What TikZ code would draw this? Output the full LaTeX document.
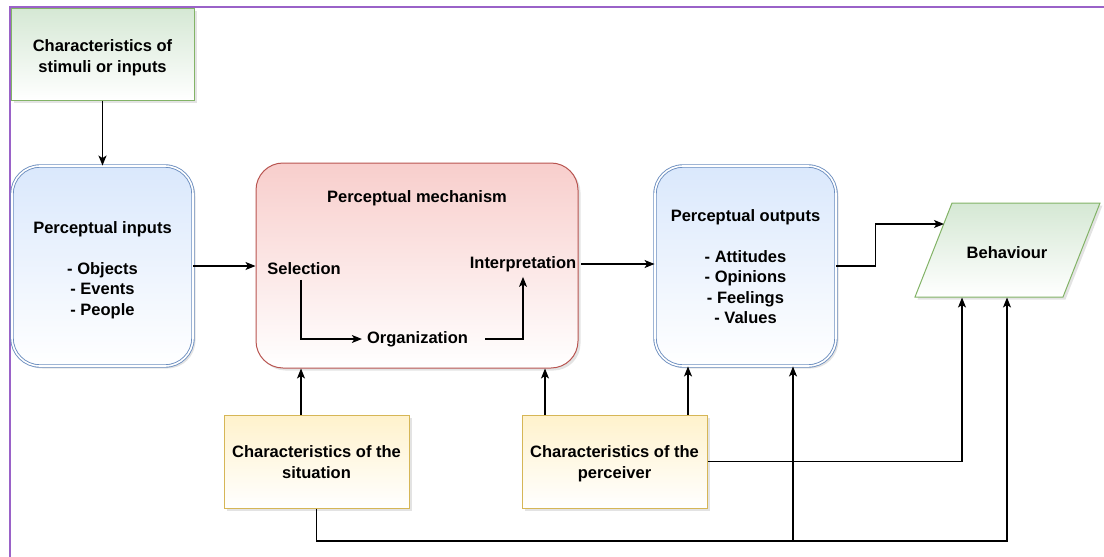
\documentclass[tikz,border=0pt]{standalone}
\usepackage{fontspec}
\setmainfont{Liberation Sans}
\usetikzlibrary{arrows.meta,shadows,calc}
\definecolor{gfill}{HTML}{D5E8D4}\definecolor{gline}{HTML}{82B366}
\definecolor{bfill}{HTML}{DAE8FC}\definecolor{bline}{HTML}{6C8EBF}
\definecolor{rfill}{HTML}{F8CECC}\definecolor{rline}{HTML}{B85450}
\definecolor{yfill}{HTML}{FFF2CC}\definecolor{yline}{HTML}{D6B656}
\definecolor{framecol}{HTML}{9A62C8}
\newcommand\boxlbl[2][3pt]{\raisebox{-#1}[\height][\depth]{\begin{tabular}{@{}c@{}}#2\end{tabular}}}
\tikzset{
  boxshadow/.style={drop shadow={shadow xshift=2.5pt,shadow yshift=-2.5pt,opacity=0.22}},
  txt/.style={font=\fontsize{16.5}{20.5}\selectfont\bfseries, align=center, text=black},
  basebox/.style={txt, line width=1pt, boxshadow, inner sep=0pt},
  greenbox/.style={basebox, draw=gline, top color=gfill, bottom color=white},
  yellowbox/.style={basebox, draw=yline, top color=yfill, bottom color=white,
    minimum width=185pt, minimum height=93pt},
  bluebox/.style={basebox, draw=bline, top color=bfill, bottom color=white,
    double=white, double distance=1.6pt, line width=0.9pt, rounded corners=28pt,
    minimum width=181pt, minimum height=200pt},
  redbox/.style={basebox, draw=rline, top color=rfill, bottom color=white,
    rounded corners=27pt, minimum width=322pt, minimum height=205pt},
  innertxt/.style={txt, inner sep=5pt},
  arr/.style={draw=black, line width=1.2pt, -{Stealth[length=10pt,width=8pt,inset=2.5pt]}},
}
\begin{document}
\begin{tikzpicture}[x=1pt,y=-1pt]
\useasboundingbox (0,0) rectangle (1104,557);
% frame lines
\draw[framecol, line width=1.3pt] (10,557) -- (10,7) -- (1104,7);

% nodes
\node[greenbox, minimum width=183pt, minimum height=92pt] (stim) at (102.5,54)
  {\boxlbl[4pt]{Characteristics of\\stimuli or inputs}};
\node[bluebox] (inputs) at (102.5,266)
  {\boxlbl[4pt]{Perceptual inputs\\[20.5pt]- Objects\\- Events\\- People}};
\node[redbox] (mech) at (417,265.5) {};
\node[txt] (mtitle) at (417,198.5) {Perceptual mechanism};
\node[innertxt] (sel) at (304,268.5) {Selection};
\node[innertxt] (org) at (417.5,339) {Organization};
\node[innertxt] (interp) at (523,264) {Interpretation};
\node[bluebox] (outputs) at (745.5,266)
  {\boxlbl[2.5pt]{Perceptual outputs\\[20.5pt]- Attitudes\\- Opinions\\- Feelings\\- Values}};
\node[yellowbox] (sit) at (316.5,461.5) {\boxlbl[2.5pt]{Characteristics of the\\situation}};
\node[yellowbox] (perc) at (614.5,461.5) {\boxlbl[2.5pt]{Characteristics of the\\perceiver}};

% behaviour parallelogram
\draw[gline, line width=1pt, top color=gfill, bottom color=white, boxshadow]
  (952,203) -- (1100,203) -- (1063,297) -- (915,297) -- cycle;
\node[txt] (beh) at (1007,253) {Behaviour};
\coordinate (behin) at (944,224);
\coordinate (behL) at (962,297.5);
\coordinate (behR) at (1007,297.5);
\coordinate (junc) at (793,541);

% connectors
\draw[arr] (stim.south) -- (inputs.north);
\draw[arr] (inputs.east) -- (inputs.east -| mech.west);
\draw[arr] ([xshift=-3pt]sel.south) |- (org.west);
\draw[arr] ([xshift=12pt]org.east) -| (interp.south);
\draw[arr] (interp.east) -- (interp.east -| outputs.west);
\draw[arr] (outputs.east) -- ++(39,0) |- (behin);
\draw[arr] ([xshift=-15.5pt]sit.north) -- ([xshift=-15.5pt]sit.north |- mech.south);
\draw[arr] ([xshift=-69.5pt]perc.north) -- ([xshift=-69.5pt]perc.north |- mech.south);
\draw[arr] ([xshift=73.5pt]perc.north) -- ([xshift=73.5pt]perc.north |- outputs.south);
\draw[arr] (perc.east) -| (behL);
\draw[arr] (sit.south) |- (junc) -| (behR);
\draw[arr] (junc) -- (junc |- outputs.south);
\end{tikzpicture}
\end{document}
